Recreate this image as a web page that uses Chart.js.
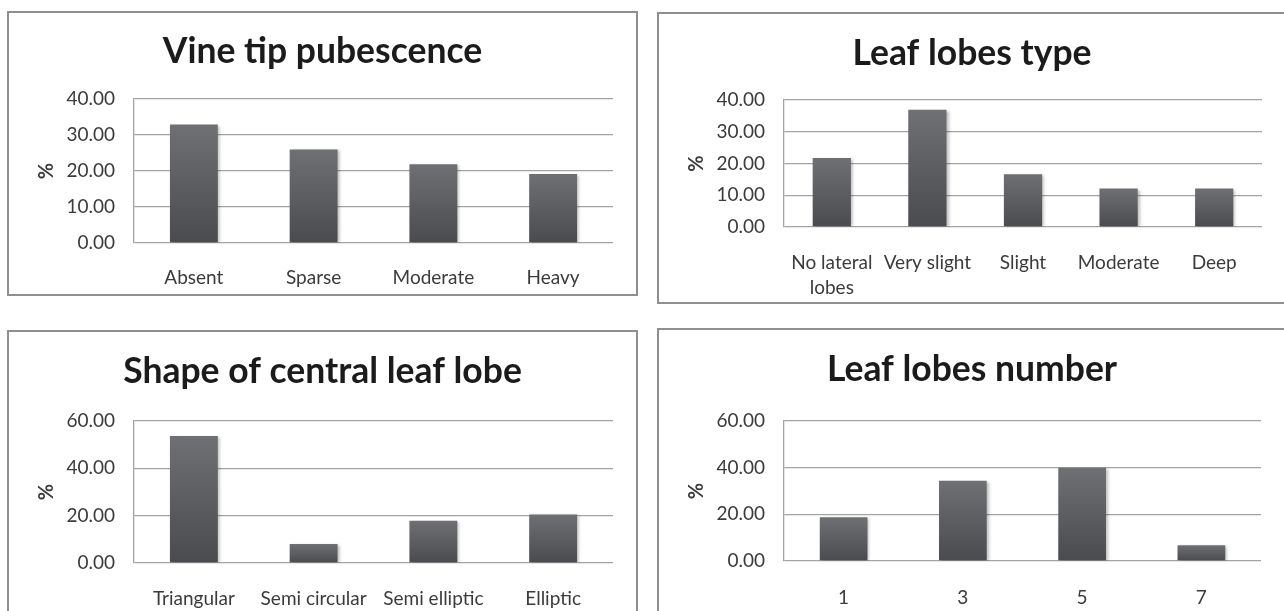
<!DOCTYPE html>
<html>
<head>
<meta charset="utf-8">
<script src="https://cdn.jsdelivr.net/npm/chart.js@4.4.1/dist/chart.umd.min.js"></script>
<style>
  html, body { margin: 0; padding: 0; background: #fff; width: 1284px; height: 611px; overflow: hidden; position: relative; }
  canvas { position: absolute; }
  .frame { position: absolute; box-sizing: border-box; border: 2px solid #8f8f8f; pointer-events: none; }
</style>
</head>
<body>
<script>
// chart values (percent)
const vineTipLabels = ['Absent', 'Sparse', 'Moderate', 'Heavy'];
const vineTipValues = [32.9, 26.0, 21.9, 19.2];

const lobeTypeLabels = [['No lateral', 'lobes'], 'Very slight', 'Slight', 'Moderate', 'Deep'];
const lobeTypeValues = [21.7, 36.9, 16.6, 12.1, 12.1];

const centralLobeLabels = ['Triangular', 'Semi circular', 'Semi elliptic', 'Elliptic'];
const centralLobeValues = [53.7, 8.0, 17.8, 20.5];

const lobeNumberLabels = ['1', '3', '5', '7'];
const lobeNumberValues = [18.8, 34.4, 40.0, 6.8];

// y axis ranges
const topRowMax = 40, topRowStep = 10;
const bottomRowMax = 60, bottomRowStep = 20;

const FONT = 'Lato, "Open Sans", sans-serif';
const TEXT = '#3b3b3b';
const GRID = '#a3a3a3';

// soft shadow behind bars, like the office chart style
const barShadow = {
  id: 'barShadow',
  beforeDatasetsDraw(chart) {
    const c = chart.ctx;
    c.save();
    c.shadowColor = 'rgba(0,0,0,0.28)';
    c.shadowBlur = 3;
    c.shadowOffsetX = 2;
    c.shadowOffsetY = 1;
  },
  afterDatasetsDraw(chart) {
    chart.ctx.restore();
  }
};

function barFill(ctx) {
  const chart = ctx.chart;
  const y = chart.scales.y;
  if (!y || ctx.raw == null) return '#5c5d61';
  const top = y.getPixelForValue(ctx.raw);
  const bottom = y.getPixelForValue(0);
  if (!isFinite(top) || !isFinite(bottom) || top === bottom) return '#5c5d61';
  const g = chart.ctx.createLinearGradient(0, top, 0, bottom);
  g.addColorStop(0, '#6f7074');
  g.addColorStop(1, '#4a4b4f');
  return g;
}

function makePanel(cfg) {
  const box = cfg.box, plot = cfg.plot;
  const canvas = document.createElement('canvas');
  canvas.width = box.w;
  canvas.height = box.h;
  canvas.style.left = box.x + 'px';
  canvas.style.top = box.y + 'px';
  document.body.appendChild(canvas);

  const frame = document.createElement('div');
  frame.className = 'frame';
  frame.style.left = box.x + 'px';
  frame.style.top = box.y + 'px';
  frame.style.width = box.w + 'px';
  frame.style.height = box.h + 'px';
  document.body.appendChild(frame);

  const titleSize = 35.5, titleLH = 42;
  const tickSize = 19, tickLH = 25;
  const titlePadTop = cfg.titleY - box.y - titleLH / 2;
  const titlePadBottom = plot.t - box.y - titlePadTop - titleLH;
  // same padding on both sides so the title stays centred in the frame
  const side = box.x + box.w - plot.r;
  const yAxisW = plot.l - box.x - side;
  const xAxisH = box.y + box.h - plot.b;

  return new Chart(canvas, {
    type: 'bar',
    data: {
      labels: cfg.labels,
      datasets: [{
        data: cfg.values,
        backgroundColor: barFill,
        borderWidth: 0,
        barPercentage: 0.4,
        categoryPercentage: 1
      }]
    },
    options: {
      responsive: false,
      animation: false,
      layout: { padding: { left: side, right: side, top: 0, bottom: 0 } },
      plugins: {
        legend: { display: false },
        tooltip: { enabled: false },
        title: {
          display: true,
          text: cfg.title,
          color: '#1b1b1b',
          font: { family: FONT, size: titleSize, weight: 'bold', lineHeight: titleLH + 'px' },
          padding: { top: titlePadTop, bottom: titlePadBottom }
        }
      },
      scales: {
        x: {
          grid: { display: false },
          border: { display: false },
          ticks: {
            color: TEXT,
            font: { family: FONT, size: tickSize, lineHeight: tickLH + 'px' },
            padding: cfg.labelY - plot.b - tickLH / 2,
            maxRotation: 0,
            autoSkip: false
          },
          afterFit(scale) { scale.height = xAxisH; }
        },
        y: {
          min: 0,
          max: cfg.yMax,
          ticks: {
            stepSize: cfg.yStep,
            color: TEXT,
            font: { family: FONT, size: tickSize },
            padding: 19,
            callback: v => v.toFixed(2)
          },
          grid: { color: GRID, lineWidth: 1.3, drawTicks: false },
          border: { color: GRID, width: 1.3 },
          title: {
            display: true,
            text: '%',
            color: TEXT,
            font: { family: FONT, size: 20, weight: 'bold', lineHeight: '22px' },
            padding: { top: Math.max(0, cfg.pctX - box.x - side - 11), bottom: 0 }
          },
          afterFit(scale) { scale.width = yAxisW; }
        }
      }
    },
    plugins: [barShadow]
  });
}

makePanel({
  title: 'Vine tip pubescence',
  labels: vineTipLabels, values: vineTipValues,
  yMax: topRowMax, yStep: topRowStep,
  box: { x: 7, y: 11, w: 631, h: 285 },
  plot: { l: 134, t: 99, r: 613, b: 243 },
  titleY: 52, labelY: 270, pctX: 47
});

makePanel({
  title: 'Leaf lobes type',
  labels: lobeTypeLabels, values: lobeTypeValues,
  yMax: topRowMax, yStep: topRowStep,
  box: { x: 657, y: 12, w: 630, h: 292 },
  plot: { l: 784, t: 100, r: 1262, b: 227 },
  titleY: 54, labelY: 255, pctX: 697
});

makePanel({
  title: 'Shape of central leaf lobe',
  labels: centralLobeLabels, values: centralLobeValues,
  yMax: bottomRowMax, yStep: bottomRowStep,
  box: { x: 7, y: 330, w: 631, h: 300 },
  plot: { l: 134, t: 421, r: 613, b: 563 },
  titleY: 372, labelY: 591, pctX: 47
});

makePanel({
  title: 'Leaf lobes number',
  labels: lobeNumberLabels, values: lobeNumberValues,
  yMax: bottomRowMax, yStep: bottomRowStep,
  box: { x: 657, y: 328, w: 630, h: 300 },
  plot: { l: 784, t: 421, r: 1261, b: 561 },
  titleY: 370, labelY: 590, pctX: 697
});
</script>
</body>
</html>
